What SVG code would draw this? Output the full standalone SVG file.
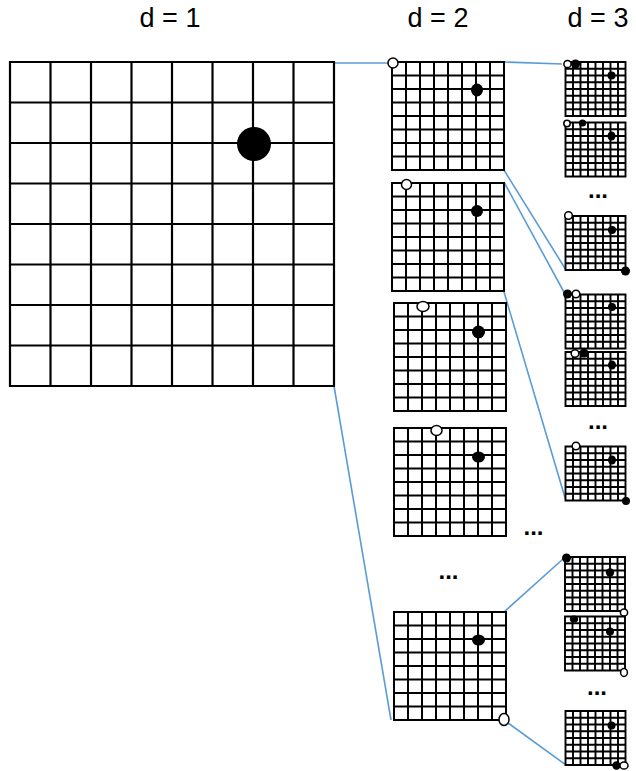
<svg xmlns="http://www.w3.org/2000/svg" xmlns:xlink="http://www.w3.org/1999/xlink" width="636" height="771" viewBox="0 0 636 771">
<style>
.lbl{font-family:"Liberation Sans",Arial,sans-serif;font-size:27px;fill:#000;text-anchor:middle}
.dots{font-family:"Liberation Sans",Arial,sans-serif;font-size:24px;font-weight:bold;fill:#000;text-anchor:middle}
.g1{fill:#fff;stroke:#000;stroke-width:2.2}
.g2{fill:#fff;stroke:#000;stroke-width:2}
.g3{fill:#fff;stroke:#000;stroke-width:1.9}
.wh{fill:#fff;stroke:#000;stroke-width:1.5}
.bk{fill:#000}
.con{stroke:#5B9BD5;stroke-width:1.6;fill:none}
</style>
<defs>
<path id="big" class="g1" d="M0,0H324V324H0Z M40.5,0V324 M81,0V324 M121.5,0V324 M162,0V324 M202.5,0V324 M243,0V324 M283.5,0V324 M0,40.5H324 M0,81H324 M0,121.5H324 M0,162H324 M0,202.5H324 M0,243H324 M0,283.5H324"/>
<path id="mid" class="g2" d="M0,0H112V108H0Z M14,0V108 M28,0V108 M42,0V108 M56,0V108 M70,0V108 M84,0V108 M98,0V108 M0,13.5H112 M0,27H112 M0,40.5H112 M0,54H112 M0,67.5H112 M0,81H112 M0,94.5H112"/>
<path id="sml" class="g3" d="M0,0H60V54H0Z M7.5,0V54 M15,0V54 M22.5,0V54 M30,0V54 M37.5,0V54 M45,0V54 M52.5,0V54 M0,6.75H60 M0,13.5H60 M0,20.25H60 M0,27H60 M0,33.75H60 M0,40.5H60 M0,47.25H60"/>
</defs>

<g id="labels">
<text class="lbl" x="170" y="27">d = 1</text>
<text class="lbl" x="438" y="27">d = 2</text>
<text class="lbl" x="598" y="27">d = 3</text>
</g>

<g id="connectors">
<line class="con" x1="334" y1="63" x2="389" y2="63"/>
<line class="con" x1="334" y1="386" x2="391" y2="720"/>
<line class="con" x1="504" y1="62" x2="562" y2="64"/>
<line class="con" x1="504" y1="170" x2="566" y2="270"/>
<line class="con" x1="504" y1="182" x2="565" y2="294"/>
<line class="con" x1="504" y1="292" x2="566" y2="501"/>
<line class="con" x1="504" y1="612" x2="563" y2="559"/>
<line class="con" x1="508" y1="723" x2="566" y2="765"/>
</g>

<g id="grid-d1">
<use xlink:href="#big" x="10" y="62"/>
<circle class="bk" cx="254" cy="144" r="17"/>
</g>

<g id="grid-d2-1">
<use xlink:href="#mid" x="392" y="62"/>
<ellipse class="bk" cx="477" cy="90" rx="6" ry="6.5"/>
<circle class="wh" cx="393" cy="63" r="5"/>
</g>
<g id="grid-d2-2">
<use xlink:href="#mid" x="392" y="183"/>
<ellipse class="bk" cx="477" cy="211" rx="6" ry="6"/>
<circle class="wh" cx="406.5" cy="184.5" r="5"/>
</g>
<g id="grid-d2-3">
<use xlink:href="#mid" x="394" y="303"/>
<ellipse class="bk" cx="478.5" cy="332" rx="6.5" ry="6.5"/>
<ellipse class="wh" cx="423" cy="306.5" rx="6" ry="5"/>
</g>
<g id="grid-d2-4">
<use xlink:href="#mid" x="394" y="428"/>
<ellipse class="bk" cx="478.5" cy="457" rx="6.5" ry="5.5"/>
<ellipse class="wh" cx="436.5" cy="430.5" rx="5.5" ry="5"/>
</g>
<g id="grid-d2-5">
<use xlink:href="#mid" x="394" y="612"/>
<ellipse class="bk" cx="478.5" cy="640" rx="6.5" ry="5.5"/>
<ellipse class="wh" cx="504" cy="719.5" rx="5" ry="6"/>
</g>

<g id="grid-d3-1">
<use xlink:href="#sml" x="565.5" y="62"/>
<circle class="bk" cx="611.5" cy="75.5" r="4"/>
<circle class="wh" cx="567.5" cy="64" r="3.6"/>
<circle class="bk" cx="575.5" cy="64" r="4.5"/>
</g>
<g id="grid-d3-2">
<use xlink:href="#sml" x="565.5" y="122.5"/>
<ellipse class="bk" cx="611.5" cy="136" rx="4" ry="4.5"/>
<circle class="wh" cx="567" cy="123.5" r="3.2"/>
<circle class="bk" cx="582.5" cy="123" r="3.6"/>
</g>
<g id="grid-d3-3">
<use xlink:href="#sml" x="565.5" y="216"/>
<circle class="bk" cx="612" cy="230" r="4"/>
<circle class="wh" cx="568.5" cy="215.5" r="3.8"/>
<circle class="bk" cx="625.5" cy="271" r="4.5"/>
</g>
<g id="grid-d3-4">
<use xlink:href="#sml" x="565.5" y="294.5"/>
<circle class="bk" cx="612" cy="307" r="4"/>
<circle class="bk" cx="567.5" cy="294" r="4.5"/>
<circle class="wh" cx="576" cy="294" r="3.8"/>
</g>
<g id="grid-d3-5">
<use xlink:href="#sml" x="565.5" y="352"/>
<ellipse class="bk" cx="612" cy="365" rx="4" ry="4.5"/>
<circle class="wh" cx="575" cy="353.5" r="3.8"/>
<circle class="bk" cx="584" cy="353" r="4.5"/>
</g>
<g id="grid-d3-6">
<use xlink:href="#sml" x="565.5" y="446.5"/>
<ellipse class="bk" cx="612" cy="460" rx="4" ry="4.5"/>
<circle class="wh" cx="576" cy="446" r="3.8"/>
<circle class="bk" cx="626" cy="501" r="4"/>
</g>
<g id="grid-d3-7">
<use xlink:href="#sml" x="565" y="557"/>
<circle class="bk" cx="610" cy="572.5" r="4.2"/>
<circle class="bk" cx="566.5" cy="558" r="4.5"/>
<circle class="wh" cx="624" cy="612.5" r="3.6"/>
</g>
<g id="grid-d3-8">
<use xlink:href="#sml" x="565" y="616.5"/>
<circle class="bk" cx="610" cy="631.5" r="4"/>
<ellipse class="bk" cx="574" cy="619" rx="4.2" ry="3.6"/>
<ellipse class="wh" cx="624" cy="672.5" rx="3.4" ry="4"/>
</g>
<g id="grid-d3-9">
<use xlink:href="#sml" x="565.5" y="711"/>
<circle class="bk" cx="611.5" cy="725.5" r="4"/>
<circle class="bk" cx="616.5" cy="765.5" r="4.2"/>
<ellipse class="wh" cx="624" cy="765.5" rx="4" ry="3.6"/>
</g>

<g id="ellipses">
<text class="dots" x="598" y="198">...</text>
<text class="dots" x="598" y="429">...</text>
<text class="dots" x="533.5" y="535">...</text>
<text class="dots" x="448.5" y="579">...</text>
<text class="dots" x="597" y="695">...</text>
</g>
</svg>
